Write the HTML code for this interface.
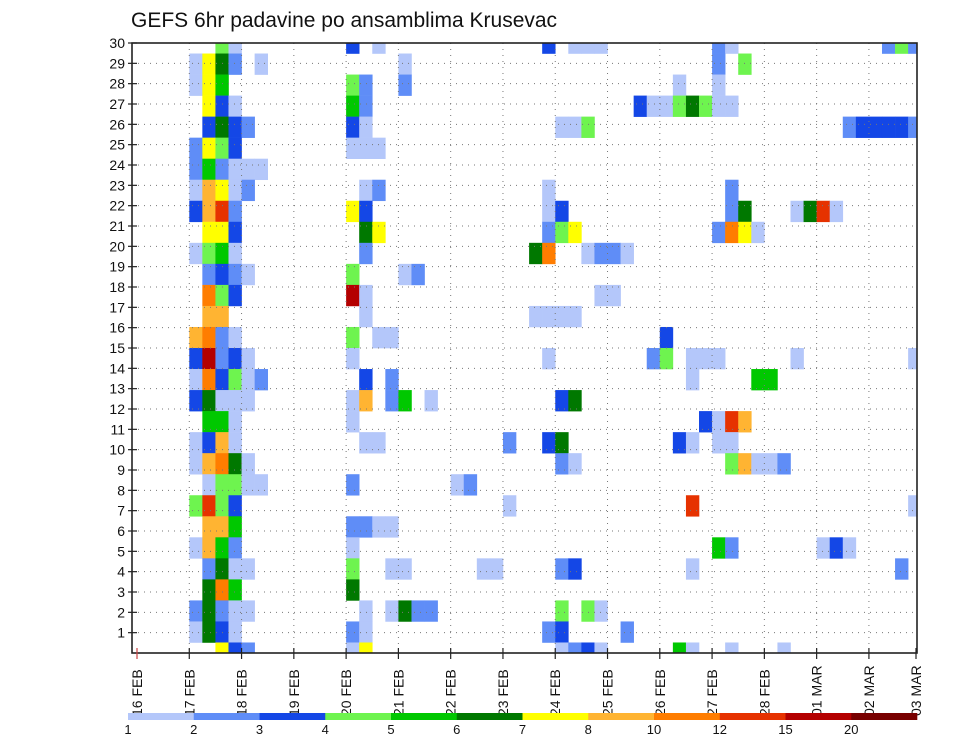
<!DOCTYPE html>
<html><head><meta charset="utf-8"><style>
html,body{margin:0;padding:0;background:#fff;}
svg{display:block;font-family:"Liberation Sans",Arial,sans-serif;}
</style></head><body>
<svg id="chart" width="960" height="742" viewBox="0 0 960 742" xmlns="http://www.w3.org/2000/svg">
<rect x="0" y="0" width="960" height="742" fill="#fff"/>
<text x="131" y="27" font-size="21" fill="#111">GEFS 6hr padavine po ansamblima Krusevac</text>
<defs><clipPath id="plotclip"><rect x="132" y="43" width="785" height="610"/></clipPath></defs>
<g id="cells" clip-path="url(#plotclip)"></g>
<g id="grid"></g>
<rect x="132" y="43" width="785" height="610" fill="none" stroke="#222" stroke-width="1.6"/>
<g id="yaxis"></g>
<g id="xaxis"></g>
<g id="colorbar"></g>
</svg>
<script>
// ---- data ----
const dayLabels = ["16 FEB","17 FEB","18 FEB","19 FEB","20 FEB","21 FEB","22 FEB","23 FEB","24 FEB","25 FEB","26 FEB","27 FEB","28 FEB","01 MAR","02 MAR","03 MAR"];
const memberTicks = [1,2,3,4,5,6,7,8,9,10,11,12,13,14,15,16,17,18,19,20,21,22,23,24,25,26,27,28,29,30];
const thresholds = [1,2,3,4,5,6,7,8,10,12,15,20];
const thresholdLabels = ["1","2","3","4","5","6","7","8","10","12","15","20"];
const levelCodes = "abcdefghijkl";
const levelValues = [1.5,2.5,3.5,4.5,5.5,6.5,7.5,9,11,13.5,17.5,22];
const levelColors = ["#b4c7fa","#5f8df7","#1447e6","#6ef44f","#00c800","#007800","#ffff00","#ffb432","#ff7d00","#e63200","#b40000","#780000"];
// each row (top to bottom): "timeStep+levelCode" entries, time step = 6h from 16 FEB 00Z
const members = [
"6d 7a 16c 18a 31c 33a 34a 35a 44b 45a 57b 58d 59b",
"4a 5g 6f 7b 9a 20a 44b 46d",
"4a 5g 6e 16d 17b 20b 41a 44a",
"5g 6c 7a 16e 17b 38c 39a 40a 41d 42f 43d 44a 45a",
"5c 6f 7c 8b 16c 17a 32a 33a 34d 54b 55c 56c 57c 58c 59b",
"4b 5g 6d 7c 16a 17a 18a",
"4b 5e 6b 7a 8a 9a",
"4a 5h 6g 7a 8b 17a 18b 31a 45b",
"4c 5h 6j 7b 16g 17c 31a 32c 45b 46f 50a 51f 52j 53a",
"5g 6g 7c 17f 18g 31b 32d 33g 44b 45i 46g 47a",
"4a 5d 6e 7a 17b 30f 31i 34a 35b 36b 37a",
"5b 6c 7b 8a 16d 20a 21b",
"5i 6d 7c 16k 17a 35a 36a",
"5h 6h 17a 30a 31a 32a 33a",
"4h 5i 6b 7a 16d 18a 19a 40c",
"4c 5k 6b 7c 8a 16a 31a 39b 40d 42a 43a 44a 50a 59a",
"4a 5i 6c 7d 8a 9b 17c 19b 42a 47e 48e",
"4c 5f 6a 7a 8a 16a 17h 19b 20e 22a 32c 33f",
"5e 6e 7a 16a 43c 44a 45j 46h",
"4a 5c 6h 7a 17a 18a 28b 31c 32f 41c 42a 44a 45a",
"4a 5h 6i 7f 8a 32b 33a 45d 46h 47a 48a 49b",
"5a 6d 7d 8a 9a 16b 24a 25b",
"4d 5j 6d 7c 28a 42j 59a",
"5h 6h 7e 16b 17b 18a 19a",
"4a 5h 6e 7b 16a 44e 45b 52a 53c 54a",
"5b 6f 7a 8a 16d 19a 20a 26a 27a 32b 33c 42a 58b",
"5f 6i 7e 16f",
"4b 5f 6b 7a 8a 17a 19a 20f 21b 22b 32d 34d 35a",
"4a 5f 6c 7a 16b 17a 31b 32c 37b",
"6g 7c 8b 16a 17g 32a 33b 34c 35a 41e 42a 45a 49a"
];
// ---- scales ----
const NS="http://www.w3.org/2000/svg";
const plotL=132, plotR=917, plotT=43, plotB=653;
const xDay = d => 137 + d*52.28;
const xStep = t => xDay(t/4);
const rowH = (plotB-plotT)/(members.length-1);
const yRow = j => plotT + j*rowH;
const yTick = v => plotB - v*(plotB-plotT)/30;
function colorFor(v){let idx=-1;for(let i=0;i<thresholds.length;i++){if(v>=thresholds[i])idx=i;}return idx<0?null:levelColors[idx];}
function mk(tag,attrs,parent){const e=document.createElementNS(NS,tag);for(const k in attrs)e.setAttribute(k,attrs[k]);parent.appendChild(e);return e;}
// ---- cells ----
const gc=document.getElementById('cells');
members.forEach((row,j)=>{
  row.split(' ').forEach(tok=>{
    const t=parseInt(tok,10); const code=tok.replace(/[0-9]/g,'');
    const v=levelValues[levelCodes.indexOf(code)];
    const col=colorFor(v); if(!col)return;
    const x0=xStep(t), x1=xStep(t+1);
    const r=mk('rect',{x:x0.toFixed(2),y:(yRow(j)-rowH/2).toFixed(2),width:(x1-x0+0.3).toFixed(2),height:(rowH+0.3).toFixed(2),fill:col},gc);
    
    
  });
});
// ---- grid ----
const gg=document.getElementById('grid');
memberTicks.forEach(v=>{ if(v>=30)return;
  const l=mk('line',{x1:plotL,x2:plotR,y1:yTick(v),y2:yTick(v),stroke:'#777','stroke-width':1,'stroke-dasharray':'1 5'},gg);
  
  
});
dayLabels.forEach((d,i)=>{ if(i===0||xDay(i)>plotR)return;
  const l=mk('line',{x1:xDay(i),x2:xDay(i),y1:plotT,y2:plotB,stroke:'#777','stroke-width':1,'stroke-dasharray':'1 5'},gg);
  
  
});
// ---- y axis ----
const gy=document.getElementById('yaxis');
memberTicks.forEach(v=>{
  const y=yTick(v);
  const tk=mk('line',{x1:plotL-4,x2:plotL+5,y1:y,y2:y,stroke:'#222','stroke-width':1.2},gy);
  
  
  const tx=mk('text',{x:plotL-7,y:y+5,'text-anchor':'end','font-size':14,fill:'#111'},gy);
  tx.textContent=String(v);
  
  
});
// ---- x axis ----
const gx=document.getElementById('xaxis');
dayLabels.forEach((d,i)=>{
  const x=Math.min(xDay(i),plotR-1);
  const tk=mk('line',{x1:x,x2:x,y1:plotB-5,y2:plotB+6,stroke:i===0?'#c44':'#222','stroke-width':1.2},gx);
  
  
  const tx=mk('text',{x:0,y:0,'font-size':14,fill:'#111',transform:'translate('+(x+5)+',716) rotate(-90)'},gx);
  tx.textContent=d;
  
  
});
// ---- colorbar ----
const gb=document.getElementById('colorbar');
const cbL=128, cbR=917, cbY=713, cbH=7, segW=(cbR-cbL)/levelColors.length;
levelColors.forEach((c,i)=>{
  const r=mk('rect',{x:cbL+i*segW,y:cbY,width:segW+0.3,height:cbH,fill:c},gb);
  
  
});
thresholdLabels.forEach((lab,i)=>{
  const tx=mk('text',{x:cbL+i*segW,y:734,'text-anchor':'middle','font-size':13,fill:'#111'},gb);
  tx.textContent=lab;
  
  
});
</script>
</body></html>
